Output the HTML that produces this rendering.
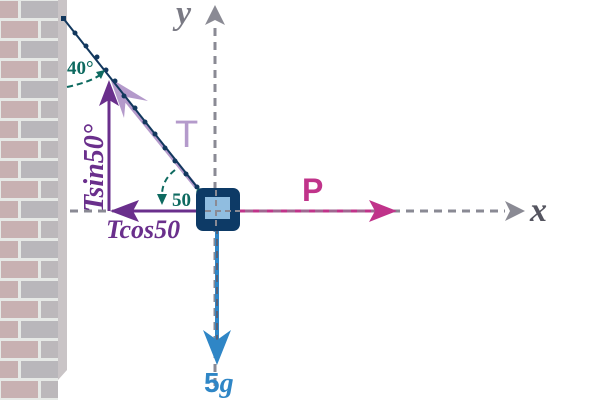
<!DOCTYPE html>
<html><head><meta charset="utf-8"><style>html,body{margin:0;padding:0;background:#fff}svg{display:block}</style></head>
<body>
<svg width="600" height="400" viewBox="0 0 600 400" xmlns="http://www.w3.org/2000/svg">
<defs>
<pattern id="br" width="80" height="40" patternUnits="userSpaceOnUse" x="-20" y="0">
<rect width="80" height="40" fill="#e6e9e6"/>
<rect x="1" y="1" width="37" height="17" fill="#c7b0b1"/>
<rect x="41" y="1" width="37" height="17" fill="#b9b7bb"/>
<rect x="-19" y="21" width="37" height="17" fill="#bab8bd"/>
<rect x="21" y="21" width="37" height="17" fill="#c8b1b2"/>
<rect x="61" y="21" width="37" height="17" fill="#bcb8bb"/>
</pattern>
</defs>
<rect x="0" y="0" width="58" height="400" fill="url(#br)"/>
<rect x="58" y="0" width="9" height="400" fill="#c9c4c6"/>
<polygon points="58,380 67,370 67,400 58,400" fill="#fff"/>
<!-- axes -->
<line x1="70" y1="211" x2="505" y2="211" stroke="#8a8a94" stroke-width="3" stroke-dasharray="8,6"/>
<polygon points="525,211 505,201 510,211 505,221" fill="#8a8a94"/>
<text x="530" y="221" font-family="Liberation Serif,serif" font-style="italic" font-weight="bold" font-size="34" fill="#555560">x</text>
<line x1="215" y1="28" x2="215" y2="390" stroke="#8a8a94" stroke-width="3" stroke-dasharray="8,6"/>
<polygon points="215,5 205,25 215,20 225,25" fill="#8a8a94"/>
<text x="176" y="24" font-family="Liberation Serif,serif" font-style="italic" font-weight="bold" font-size="34" fill="#7a7a84">y</text>
<!-- T arrow -->
<line x1="197" y1="188" x2="116" y2="88" stroke="#b49acb" stroke-width="4"/>
<polygon points="110,78 148,101 126,97 124,118" fill="#b49acb"/>
<text x="175" y="147" font-family="Liberation Sans,sans-serif" font-size="38" fill="#b49acb">T</text>
<!-- rope -->
<polyline points="63,18 197,187" stroke="#12385e" stroke-width="2" fill="none"/>
<g fill="#12385e">
<rect x="61" y="16" width="5" height="5"/>
<circle cx="75" cy="33" r="2.5"/><circle cx="86" cy="46" r="2.5"/><circle cx="97" cy="57" r="2.5"/><circle cx="106" cy="70" r="2.5"/><circle cx="115" cy="81" r="2.5"/><circle cx="124" cy="96" r="2.5"/><circle cx="135" cy="108" r="2.5"/><circle cx="145" cy="122" r="2.5"/><circle cx="155" cy="134" r="2.5"/><circle cx="165" cy="148" r="2.5"/><circle cx="175" cy="161" r="2.5"/><circle cx="186" cy="174" r="2.5"/><circle cx="197" cy="187" r="2.5"/>
</g>
<!-- angle arcs -->
<path d="M67,87 Q90,82 100,75" stroke="#0e6a60" stroke-width="2" fill="none" stroke-dasharray="6,4"/>
<polygon points="105,70 96,72 101,79" fill="#0e6a60"/>
<text x="67" y="74" font-family="Liberation Serif,serif" font-weight="bold" font-size="19" fill="#0e6a60">40°</text>
<path d="M175,170 Q162,180 162,195" stroke="#0e6a60" stroke-width="2" fill="none" stroke-dasharray="6,4"/>
<polygon points="162,205 157,194 167,194" fill="#0e6a60"/>
<text x="172" y="206" font-family="Liberation Serif,serif" font-weight="bold" font-size="19" fill="#0e6a60">50</text>
<circle cx="200" cy="192" r="3" fill="none" stroke="#0e6a60" stroke-width="1.5"/>
<!-- Tsin arrow -->
<line x1="109" y1="211" x2="109" y2="95" stroke="#6a2f8c" stroke-width="3"/>
<polygon points="109,80 99,106 109,100 119,106" fill="#6a2f8c"/>
<text transform="translate(103,212) rotate(-90)" font-family="Liberation Serif,serif" font-style="italic" font-weight="bold" font-size="28" fill="#6a2f8c">Tsin50°</text>
<!-- Tcos arrow -->
<line x1="200" y1="211" x2="120" y2="211" stroke="#6a2f8c" stroke-width="3"/>
<polygon points="110,211 139,200 133,211 139,222" fill="#6a2f8c"/>
<text x="106" y="238" font-family="Liberation Serif,serif" font-style="italic" font-weight="bold" font-size="26" fill="#6a2f8c">Tcos50</text>
<circle cx="203" cy="224" r="3.5" fill="none" stroke="#6a2f8c" stroke-width="1.5"/>
<!-- P -->
<line x1="217" y1="211" x2="385" y2="211" stroke="#c0338a" stroke-width="3"/>
<line x1="217" y1="211" x2="385" y2="211" stroke="#8a8a94" stroke-width="3" stroke-dasharray="8,6" opacity="0.6"/>
<polygon points="397,211 369,200 375,211 369,222" fill="#c0338a"/>
<text x="302" y="201" font-family="Liberation Sans,sans-serif" font-weight="bold" font-size="32" fill="#c0338a">P</text>
<!-- 5g -->
<line x1="217" y1="215" x2="217" y2="345" stroke="#2f86c6" stroke-width="4"/>
<line x1="217" y1="215" x2="217" y2="340" stroke="#55627a" stroke-width="2" stroke-dasharray="7,5"/>
<polygon points="217,365 203,330 217,340 231,330" fill="#2f86c6"/>
<text x="204" y="392" font-family="Liberation Sans,sans-serif" font-weight="bold" font-size="28" fill="#2f86c6">5<tspan font-family="Liberation Serif,serif" font-style="italic">g</tspan></text>
<!-- block -->
<rect x="196" y="188" width="44" height="43" rx="7" fill="#0d3a66"/>
<rect x="205" y="197" width="25" height="22" fill="#90bde0"/>
<line x1="205" y1="211" x2="240" y2="211" stroke="#8a8a94" stroke-width="2" stroke-dasharray="6,4"/>
<line x1="216" y1="190" x2="216" y2="230" stroke="#8a8a94" stroke-width="2" stroke-dasharray="6,4"/>
</svg>
</body></html>
